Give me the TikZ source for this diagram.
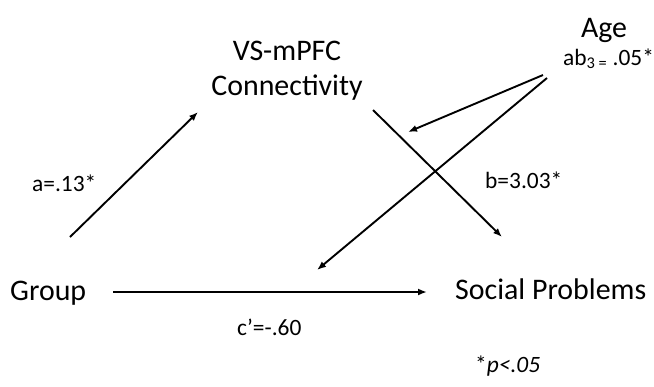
\documentclass[tikz,border=0pt]{standalone}
\usepackage{fontspec}
\setmainfont{Carlito}
\usetikzlibrary{arrows.meta}

\tikzset{
 big/.style={inner sep=0, font=\fontsize{30}{35}\selectfont},
 lab/.style={inner sep=0, font=\fontsize{23.5}{27}\selectfont},
 arr/.style={black, line width=1.9bp, -{Latex[length=9bp, width=7bp]}}
}

\begin{document}
\begin{tikzpicture}[x=1bp, y=-1bp]
\useasboundingbox (0,0) rectangle (654,386);
% variables
\node[big, anchor=base west] (grp) at (10,300) {Group};
\node[big, anchor=base west] (soc) at (455,299) {Social Problems};
\node[big, anchor=base] (vs) at (287,60) {VS-mPFC};
\node[big, anchor=base] (con) at (287,95) {Connectivity};
\node[big, anchor=base] (age) at (604,37) {Age};
% path labels
\node[lab, anchor=base west] (la) at (32,191) {a=.13*};
\node[lab, anchor=base west] (lb) at (485,188) {b=3.03*};
\node[lab, anchor=base west] (lc) at (237,335) {c’=-.60};
\node[lab, anchor=base west] (lab3) at (563,65) {ab\textsubscript{3 =} .05*};
\node[lab, anchor=base west] (sig) at (475,372) {*\textit{p<.05}};
% arrow ends
\coordinate (A0) at (70,237);  \coordinate (A1) at (198,112);
\coordinate (B0) at (373,110); \coordinate (B1) at (502,237);
\coordinate (C0) at (113,292); \coordinate (C1) at (427,292);
\coordinate (M0) at (543,75);  \coordinate (M1) at (408,132);
\coordinate (N0) at (547,78);  \coordinate (N1) at (317,270);
\draw[arr] (A0)--(A1);
\draw[arr] (B0)--(B1);
\draw[arr] (C0)--(C1);
\draw[arr] (M0)--(M1);
\draw[arr] (N0)--(N1);
\end{tikzpicture}
\end{document}
